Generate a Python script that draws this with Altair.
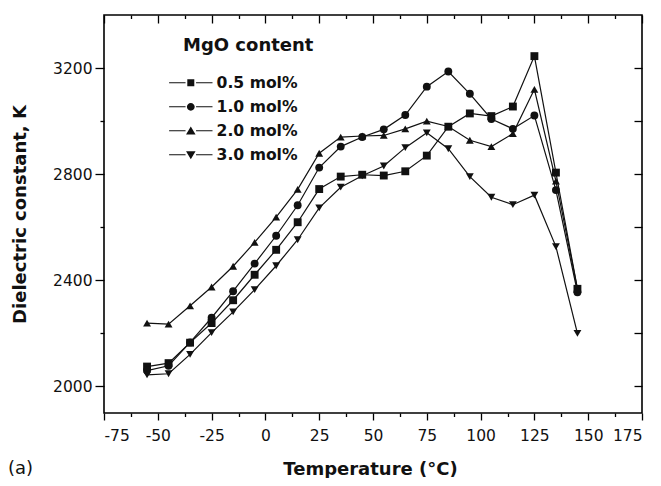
import altair as alt
import pandas as pd

# ---------------- data ----------------
temps = [-55, -45, -35, -25, -15, -5, 5, 15, 25, 35, 45, 55, 65, 75, 85, 95, 105, 115, 125, 135, 145]
k_05 = [2075, 2088, 2165, 2239, 2325, 2421, 2515, 2619, 2744, 2791, 2798, 2795, 2811, 2870, 2979, 3029, 3019, 3055, 3245, 2806, 2368]
k_10 = [2060, 2078, 2166, 2259, 2359, 2463, 2568, 2683, 2825, 2904, 2940, 2969, 3023, 3130, 3187, 3103, 3008, 2971, 3021, 2740, 2355]
k_20 = [2239, 2235, 2304, 2375, 2453, 2543, 2638, 2743, 2879, 2940, 2944, 2946, 2971, 3000, 2980, 2928, 2904, 2953, 3120, 2774, 2368]
k_30 = [2044, 2048, 2121, 2203, 2281, 2365, 2455, 2553, 2673, 2751, 2794, 2831, 2900, 2956, 2896, 2791, 2713, 2685, 2721, 2527, 2200]
series_names = ["0.5 mol%", "1.0 mol%", "2.0 mol%", "3.0 mol%"]

x_ticks_all = [-75, -62.5, -50, -37.5, -25, -12.5, 0, 12.5, 25, 37.5, 50, 62.5, 75,
               87.5, 100, 112.5, 125, 137.5, 150, 162.5, 175]
x_ticks_major = [-75, -50, -25, 0, 25, 50, 75, 100, 125, 150, 175]
x_ticks_minor = [-62.5, -37.5, -12.5, 12.5, 37.5, 62.5, 87.5, 112.5, 137.5, 162.5]
y_ticks = [2000, 2200, 2400, 2600, 2800, 3000, 3200]

rows = []
for name, vals in zip(series_names, [k_05, k_10, k_20, k_30]):
    for t, v in zip(temps, vals):
        rows.append({"temp": t, "value": v, "series": name})
df = pd.DataFrame(rows)

FONT = "DejaVu Sans"
INK = "#111111"

x_scale = alt.Scale(domain=[-75, 175], nice=False, zero=False)
y_scale = alt.Scale(domain=[1900, 3400], nice=False, zero=False)

# legend symbols: line - marker - line (line segments as thin filled bars)
seg = "M-3.1,-0.08H-0.75V0.08H-3.1ZM0.75,-0.08H3.1V0.08H0.75Z"
legend_shapes = [
    seg + "M-0.5,-0.5H0.5V0.5H-0.5Z",
    seg + "M-0.56,0A0.56,0.56,0,1,0,0.56,0A0.56,0.56,0,1,0,-0.56,0Z",
    seg + "M0,-0.62L0.68,0.52L-0.68,0.52Z",
    seg + "M0,0.62L0.68,-0.52L-0.68,-0.52Z",
]

base = alt.Chart(df)

lines = base.mark_line(color=INK, strokeWidth=1.2).encode(
    x=alt.X("temp:Q", scale=x_scale,
            axis=alt.Axis(orient="bottom", values=x_ticks_all, domain=False,
                          labelExpr="datum.value % 25 == 0 ? '' + datum.value : ''",
                          labelOverlap=False, labelFontSize=15.5, labelPadding=8,
                          tickSize={"condition": {"test": "datum.value % 25 == 0", "value": 7}, "value": 3.5},
                          title="Temperature (°C)", titleFontSize=18, titleFontWeight="bold",
                          titleX=266, titleY=61, titleBaseline="alphabetic", titleAnchor="middle")),
    y=alt.Y("value:Q", scale=y_scale,
            axis=alt.Axis(orient="left", values=y_ticks, domain=False,
                          labelExpr="datum.value % 400 == 0 ? '' + datum.value : ''",
                          labelOverlap=False, labelFontSize=15.5, labelPadding=3,
                          tickSize={"condition": {"test": "datum.value % 400 == 0", "value": 9}, "value": 4},
                          title="Dielectric constant, K", titleFontSize=18, titleFontWeight="bold",
                          titleAngle=270, titleX=-79, titleY=199, titleAlign="center",
                          titleBaseline="alphabetic")),
    detail="series:N",
)

points = base.mark_point(filled=True, color=INK, opacity=1, size=62).encode(
    x=alt.X("temp:Q", scale=x_scale,
            axis=alt.Axis(orient="top", values=x_ticks_major, labels=False, domain=False,
                          tickSize=8, offset=-8, title=None)),
    y=alt.Y("value:Q", scale=y_scale,
            axis=alt.Axis(orient="right", values=y_ticks, labels=False, domain=False,
                          tickSize=8, offset=-8, title=None)),
    shape=alt.Shape("series:N",
                    scale=alt.Scale(domain=series_names,
                                    range=["square", "circle", "triangle-up", "triangle-down"]),
                    legend=None),
)

legend_layer = base.transform_filter("datum.value < 0").mark_point(
    filled=True, color=INK, opacity=1
).encode(
    x=alt.X("temp:Q", scale=x_scale,
            axis=alt.Axis(orient="top", values=x_ticks_minor, labels=False, domain=False,
                          tickSize=3.5, offset=-3.5, title=None)),
    y=alt.Y("value:Q", scale=y_scale, axis=None),
    shape=alt.Shape("series:N",
                    scale=alt.Scale(domain=series_names, range=legend_shapes),
                    legend=alt.Legend(title="MgO content", orient="none", legendX=79, legendY=22,
                                      symbolSize=196, symbolFillColor=INK, symbolStrokeColor=INK,
                                      symbolStrokeWidth=0.6, symbolOpacity=1,
                                      labelFont=FONT, labelFontSize=15.6, labelFontWeight="bold",
                                      labelColor=INK, labelOffset=18, rowPadding=7,
                                      titleFont=FONT, titleFontSize=18, titleFontWeight="bold",
                                      titleColor=INK, titlePadding=20)),
)

chart = alt.layer(lines, points, legend_layer).resolve_scale(
    shape="independent"
).resolve_axis(
    x="independent", y="independent"
).properties(
    width=538, height=398,
    autosize=alt.AutoSizeParams(type="none"),
    padding={"left": 96, "top": 7, "right": 10, "bottom": 65},
    title=alt.TitleParams("(a)", orient="bottom", anchor="start", frame="group",
                          dx=-96, dy=-22, fontSize=18, fontWeight="normal", font=FONT, color=INK),
).configure_view(
    stroke="black", strokeWidth=1.6
).configure_axis(
    labelFont=FONT, titleFont=FONT, labelColor=INK, titleColor=INK,
    tickColor="black", tickWidth=1.3, grid=False
)

chart.save("out.html", embed_options={"renderer": "svg", "actions": False})
